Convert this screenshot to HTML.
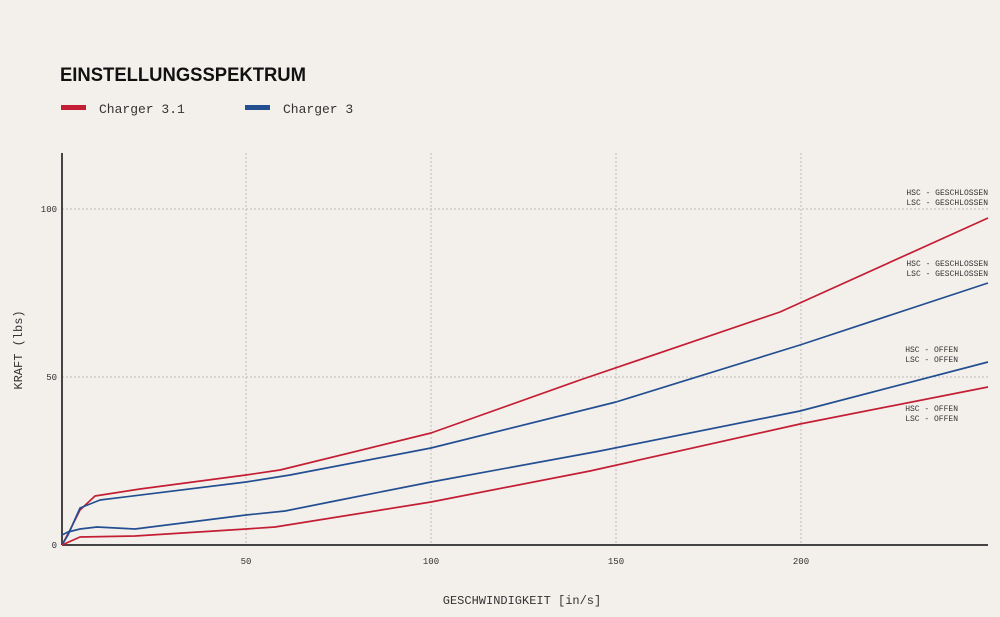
<!DOCTYPE html>
<html><head><meta charset="utf-8"><style>
body{margin:0;background:#f3f0ec;}
svg{display:block}
.m{font-family:"Liberation Mono",monospace;fill:#333}
</style></head><body>
<svg width="1000" height="617" viewBox="0 0 1000 617">
<rect width="1000" height="617" fill="#f3f0ec"/>
<text x="60" y="81" font-family="Liberation Sans, sans-serif" font-weight="bold" font-size="19" fill="#111" textLength="246" lengthAdjust="spacingAndGlyphs">EINSTELLUNGSSPEKTRUM</text>
<rect x="61" y="105" width="25" height="5" fill="#c41e34"/>
<text class="m" x="99" y="113" font-size="13">Charger 3.1</text>
<rect x="245" y="105" width="25" height="5" fill="#234f91"/>
<text class="m" x="283" y="113" font-size="13">Charger 3</text>
<g stroke="#bbb" stroke-dasharray="2,2" stroke-width="1">
<line x1="246" y1="153" x2="246" y2="545"/><line x1="431" y1="153" x2="431" y2="545"/>
<line x1="616" y1="153" x2="616" y2="545"/><line x1="801" y1="153" x2="801" y2="545"/>
<line x1="62" y1="209" x2="988" y2="209"/><line x1="62" y1="377" x2="988" y2="377"/>
</g>
<line x1="62" y1="153" x2="62" y2="545" stroke="#444" stroke-width="2"/>
<line x1="62" y1="545" x2="988" y2="545" stroke="#444" stroke-width="2"/>
<g class="m" font-size="9" text-anchor="middle">
<text x="246" y="564">50</text><text x="431" y="564">100</text><text x="616" y="564">150</text><text x="801" y="564">200</text>
</g>
<g class="m" font-size="9" text-anchor="end">
<text x="57" y="548">0</text><text x="57" y="380">50</text><text x="57" y="212">100</text>
</g>
<text class="m" x="522" y="604" font-size="12" text-anchor="middle">GESCHWINDIGKEIT [in/s]</text>
<text class="m" font-size="12" text-anchor="middle" transform="translate(22,350) rotate(-90)">KRAFT (lbs)</text>
<g class="m" font-size="8" text-anchor="end">
<text x="988" y="195">HSC - GESCHLOSSEN</text><text x="988" y="205">LSC - GESCHLOSSEN</text>
<text x="988" y="266">HSC - GESCHLOSSEN</text><text x="988" y="276">LSC - GESCHLOSSEN</text>
<text x="958" y="352">HSC - OFFEN</text><text x="958" y="362">LSC - OFFEN</text>
<text x="958" y="411">HSC - OFFEN</text><text x="958" y="421">LSC - OFFEN</text>
</g>
<g fill="none" stroke-width="1.7" stroke-linejoin="round">
<polyline stroke="#c41e34" points="62,545 70,530 80,510 95,496 140,489 246,475 280,470 431,433 580,380 780,312 988,218"/>
<polyline stroke="#234f91" points="62,545 68,535 80,508 100,500 246,482 290,475 431,448 616,402 800,345 988,283"/>
<polyline stroke="#234f91" points="62,535 68,532 80,529 97,527 135,529 246,515 285,511 340,500 431,482 600,451 800,411 988,362"/>
<polyline stroke="#c41e34" points="62,545 80,537 135,536 246,529 275,527 431,502 590,471 800,424 988,387"/>
</g>
</svg>
</body></html>
